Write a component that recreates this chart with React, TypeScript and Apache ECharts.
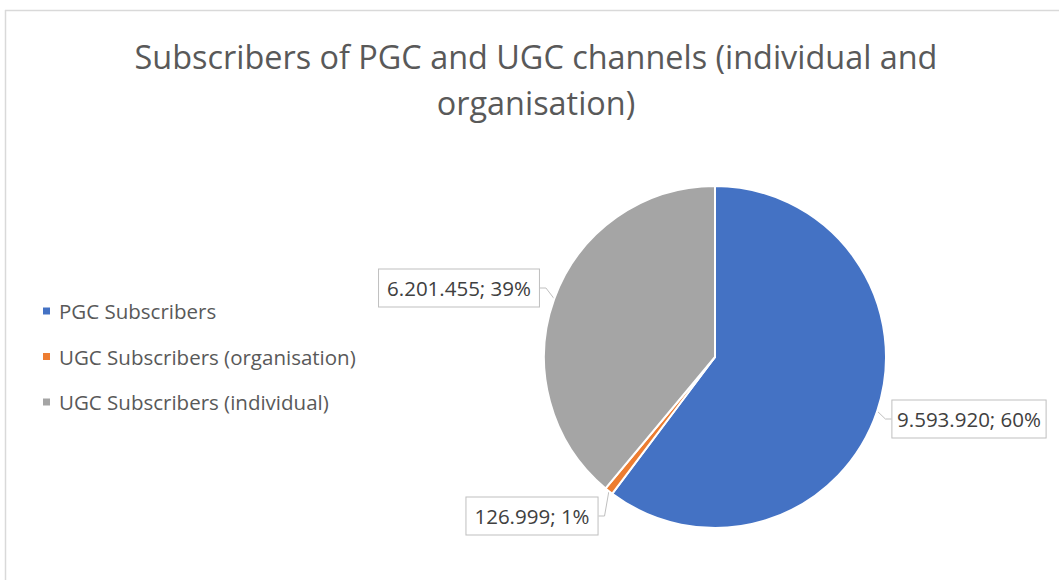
import React, { useEffect, useRef } from "react";
import * as echarts from "echarts";

const categories = ["PGC Subscribers", "UGC Subscribers (organisation)", "UGC Subscribers (individual)"];
const values = [9593920, 126999, 6201455];
const colors = ["#4472C4", "#ED7D31", "#A5A5A5"];
const titleText = "Subscribers of PGC and UGC channels (individual and\norganisation)";

const total = values.reduce((a, b) => a + b, 0);
const fmt = (v: number) => String(v).replace(/\B(?=(\d{3})+(?!\d))/g, ".");

// label anchor centres
const labelPos: [number, number][] = [
  [969, 419],
  [532, 516],
  [459, 288],
];

export default function App() {
  const ref = useRef<HTMLDivElement>(null);
  useEffect(() => {
    if (!ref.current) return;
    const chart = echarts.init(ref.current, null, { renderer: "svg" });
    chart.setOption({
      animation: false,
      backgroundColor: "#ffffff",
      title: {
        text: titleText,
        left: 531,
        textAlign: "center",
        top: 28,
        textStyle: {
          fontFamily: "Open Sans",
          fontSize: 32.4,
          fontWeight: "normal",
          color: "#595959",
          lineHeight: 46,
        },
      },
      legend: {
        orient: "vertical",
        left: 36,
        top: 294,
        icon: "rect",
        itemWidth: 9,
        itemHeight: 9,
        itemGap: 21.5,
        textStyle: { fontFamily: "Open Sans", fontSize: 20.5, color: "#595959", lineHeight: 24, padding: [0, 0, 0, 3] },
        data: categories,
      },
      graphic: [
        { type: "line", shape: { x1: 5.5, y1: 10, x2: 5.5, y2: 580 }, style: { stroke: "#D9D9D9", lineWidth: 1.5 } },
        { type: "line", shape: { x1: 5, y1: 10.5, x2: 1059, y2: 10.5 }, style: { stroke: "#D9D9D9", lineWidth: 1.5 } },
      ],
      series: [
        {
          type: "pie",
          center: [715, 357],
          radius: 171,
          startAngle: 90,
          clockwise: true,
          itemStyle: { borderColor: "#ffffff", borderWidth: 2 },
          label: {
            show: true,
            position: "outside",
            overflow: "none",
            edgeDistance: 0,
            fontFamily: "Open Sans",
            fontSize: 20.5,
            color: "#404040",
            backgroundColor: "#ffffff",
            borderColor: "#BFBFBF",
            borderWidth: 1,
            padding: [7, 8],
            lineHeight: 23,
            formatter: (p: any) => `${fmt(p.value)}; ${Math.round((p.value / total) * 100)}%`,
          },
          labelLine: { show: true, length: 8, length2: 6, lineStyle: { color: "#BFBFBF", width: 1 } },
          labelLayout: (params: any) => {
            const pos = labelPos[params.dataIndex];
            return { x: pos[0], y: pos[1], align: "center", verticalAlign: "middle" };
          },
          data: categories.map((c, i) => ({ name: c, value: values[i], itemStyle: { color: colors[i] } })),
        },
      ],
    });
    return () => chart.dispose();
  }, []);
  return <div ref={ref} style={{ position: "absolute", left: 0, top: 0, width: 1059, height: 580 }} />;
}
